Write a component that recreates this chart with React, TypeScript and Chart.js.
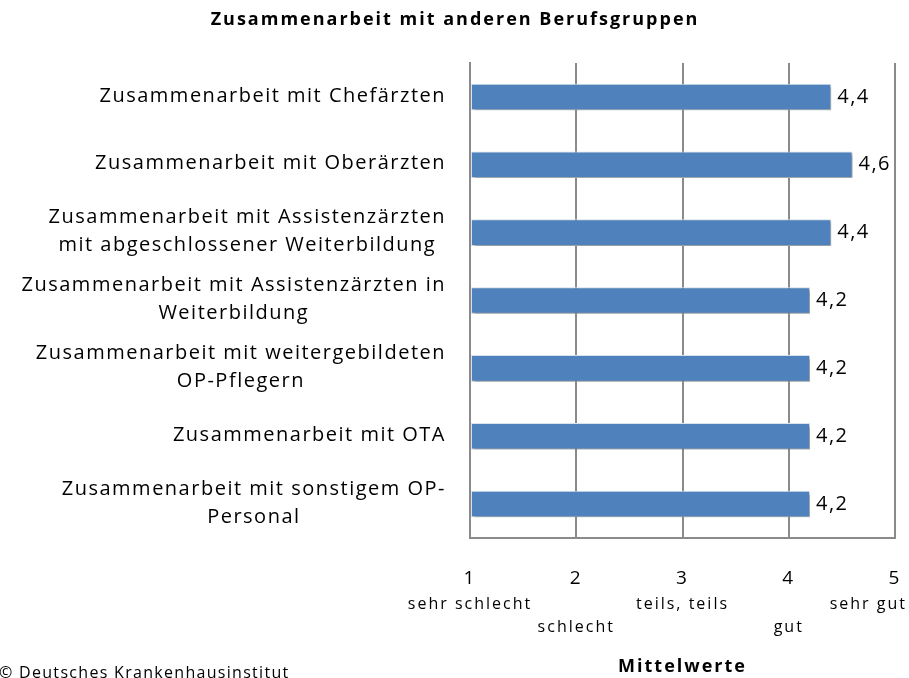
import React, { useEffect, useRef } from "react";
import { Chart, registerables } from "chart.js";

Chart.register(...registerables);

const chartTitle = "Zusammenarbeit mit anderen Berufsgruppen";
const categories: string[][] = [
  ["Zusammenarbeit mit Chefärzten"],
  ["Zusammenarbeit mit Oberärzten"],
  ["Zusammenarbeit mit Assistenzärzten", "mit abgeschlossener Weiterbildung"],
  ["Zusammenarbeit mit Assistenzärzten in", "Weiterbildung"],
  ["Zusammenarbeit mit weitergebildeten", "OP-Pflegern"],
  ["Zusammenarbeit mit OTA"],
  ["Zusammenarbeit mit sonstigem OP-", "Personal"],
];
const values = [4.4, 4.6, 4.4, 4.2, 4.2, 4.2, 4.2];
const tickValues = [1, 2, 3, 4, 5];
const tickDescriptions = ["sehr schlecht", "schlecht", "teils, teils", "gut", "sehr gut"];
const tickDescriptionRows = [0, 1, 0, 1, 0];
const axisTitle = "Mittelwerte";
const sourceNote = "© Deutsches Krankenhausinstitut";

const FONT = "'Open Sans', sans-serif";
const SPACING = "2px";
const GRID = "#8a8a8a";

const fmt = (v: number) => v.toFixed(1).replace(".", ",");

const customPlugin = {
  id: "custom",
  beforeUpdate(chart: any) {
    chart.ctx.letterSpacing = SPACING;
  },
  beforeDraw(chart: any) {
    chart.ctx.letterSpacing = SPACING;
  },
  beforeDatasetsDraw(chart: any) {
    const ctx = chart.ctx;
    ctx.save();
    ctx.shadowColor = "rgba(0,0,0,0.38)";
    ctx.shadowOffsetX = 2;
    ctx.shadowOffsetY = 2;
    ctx.shadowBlur = 3;
  },
  afterDatasetsDraw(chart: any) {
    const ctx = chart.ctx;
    ctx.restore();
    ctx.save();
    ctx.letterSpacing = "1.5px";
    const meta = chart.getDatasetMeta(0);
    ctx.font = `20px ${FONT}`;
    ctx.fillStyle = "#000";
    ctx.textAlign = "left";
    ctx.textBaseline = "middle";
    meta.data.forEach((bar: any, i: number) => {
      ctx.fillText(fmt(values[i]), bar.x + 6, bar.y);
    });
    ctx.restore();
  },
  afterDraw(chart: any) {
    const ctx = chart.ctx;
    const x = chart.scales.x;
    const y = chart.scales.y;
    const area = chart.chartArea;
    ctx.save();
    ctx.letterSpacing = SPACING;
    ctx.fillStyle = "#000";

    // title
    ctx.font = `bold 18px ${FONT}`;
    ctx.textAlign = "center";
    ctx.textBaseline = "middle";
    ctx.fillText(chartTitle, 455, 20);

    // category labels
    ctx.letterSpacing = "1.5px";
    ctx.font = `20px ${FONT}`;
    const right = 446;
    const lh = 28;
    categories.forEach((lines, i) => {
      const cy = y.getPixelForValue(i) - 1;
      const w = Math.max(...lines.map((l) => ctx.measureText(l).width));
      const cx = right - w / 2;
      const top = cy - ((lines.length - 1) * lh) / 2;
      lines.forEach((l, j) => {
        ctx.fillText(l, cx, top + j * lh);
      });
    });

    // tick descriptions
    ctx.letterSpacing = SPACING;
    ctx.font = `16px ${FONT}`;
    tickValues.forEach((v, i) => {
      const px = x.getPixelForValue(v);
      const w = ctx.measureText(tickDescriptions[i]).width;
      const cx = Math.min(px, chart.width - w / 2 - 2);
      ctx.fillText(tickDescriptions[i], cx, 604 + tickDescriptionRows[i] * 23);
    });

    // axis title
    ctx.font = `bold 18px ${FONT}`;
    ctx.fillText(axisTitle, (area.left + area.right) / 2, 667);

    // source
    ctx.letterSpacing = "1.3px";
    ctx.font = `16px ${FONT}`;
    ctx.textAlign = "left";
    ctx.textBaseline = "alphabetic";
    ctx.fillText(sourceNote, -1, 678);
    ctx.restore();
  },
};

export default function App() {
  const ref = useRef<HTMLCanvasElement>(null);
  useEffect(() => {
    if (!ref.current) return;
    const chart = new Chart(ref.current, {
      type: "bar",
      data: {
        labels: categories.map((c) => c.join(" ")),
        datasets: [
          {
            data: values,
            base: 1,
            backgroundColor: "#4F81BD",
            borderColor: "#DCE6F2",
            borderWidth: 1,
            borderSkipped: false,
            barPercentage: 0.8,
            categoryPercentage: 0.49,
          } as any,
        ],
      },
      options: {
        indexAxis: "y",
        animation: false,
        responsive: true,
        maintainAspectRatio: false,
        layout: { padding: { top: 63, right: 14, left: 0, bottom: 0 } },
        plugins: { legend: { display: false }, tooltip: { enabled: false }, title: { display: false } },
        scales: {
          x: {
            type: "linear",
            min: 1,
            max: 5,
            afterFit: (s: any) => {
              s.height = 140;
              s.paddingLeft = 0;
              s.paddingRight = 0;
            },
            afterBuildTicks: (s: any) => {
              s.ticks = tickValues.map((v) => ({ value: v }));
            },
            grid: { color: GRID, lineWidth: 2, drawTicks: false },
            border: { color: GRID, width: 2 },
            ticks: {
              padding: 29,
              color: "#000",
              font: { family: FONT, size: 19 },
              callback: (v: any) => String(v),
            },
          },
          y: {
            type: "category",
            afterFit: (s: any) => {
              s.width = 470;
            },
            grid: { display: false },
            border: { color: GRID, width: 2 },
            ticks: { display: false },
          },
        },
      },
      plugins: [customPlugin],
    });
    return () => chart.destroy();
  }, []);
  return (
    <div style={{ position: "fixed", left: 0, top: 0, width: 909, height: 678 }}>
      <canvas ref={ref} />
    </div>
  );
}
